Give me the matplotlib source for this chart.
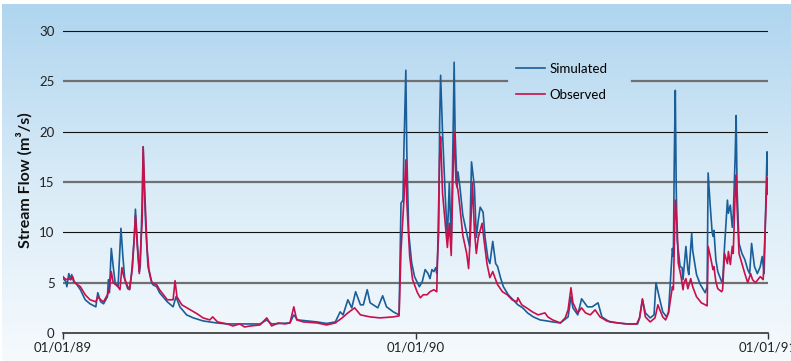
import numpy as np
import matplotlib.pyplot as plt
from matplotlib.colors import LinearSegmentedColormap

plt.rcParams['font.family'] = ['Lato', 'DejaVu Sans']

# --- Data (days since 01/01/89, flow in m3/s) ---
sim_day = [0, 3, 4, 6, 8, 9, 11, 13, 18, 23, 28, 34, 36, 39, 42, 46, 47, 48, 50, 52,
           54, 57, 60, 62, 64, 67, 69, 71, 74, 75, 77, 79, 80, 82, 83, 84, 86, 88, 91, 93,
           97, 100, 108, 114, 117, 121, 128, 135, 145, 159, 170, 186, 204, 211, 216, 235, 239, 243, 263, 273,
           282, 287, 290, 295, 299, 303, 308, 311, 315, 318, 326, 331, 335, 342, 348, 350, 352, 353, 355, 356,
           358, 361, 364, 369, 372, 375, 378, 380, 382, 384, 386, 387, 389, 390, 391, 393, 396, 398, 400, 402,
           404, 405, 406, 408, 409, 411, 414, 418, 421, 423, 426, 428, 430, 432, 435, 437, 440, 442, 445, 448,
           450, 453, 456, 461, 466, 471, 476, 481, 487, 494, 501, 507, 515, 523, 526, 528, 533, 537, 543, 548,
           554, 558, 566, 584, 595, 597, 600, 603, 608, 612, 614, 618, 621, 625, 627, 631, 632, 633, 634, 635,
           636, 639, 641, 642, 645, 647, 648, 651, 652, 656, 660, 665, 667, 668, 670, 672, 673, 674, 676, 678,
           682, 683, 685, 688, 689, 691, 693, 694, 696, 697, 698, 700, 703, 706, 709, 711, 713, 716, 719, 722,
           724, 726, 728, 729, 730]
sim_flow = [5.45, 5.1, 4.6, 5.9, 5.3, 5.8, 5.1, 5.0, 4.3, 3.3, 2.9, 2.6, 4.0, 3.1, 2.9, 3.6, 5.3, 4.0, 8.4, 6.6,
            5.0, 4.6, 10.4, 7.6, 5.3, 4.4, 4.3, 5.9, 9.7, 12.3, 8.9, 6.1, 6.6, 13.2, 18.5, 14.5, 9.9, 6.6, 5.3, 4.8,
            4.6, 4.0, 3.1, 2.6, 3.6, 2.6, 1.8, 1.5, 1.2, 1.0, 0.9, 0.9, 0.9, 1.3, 0.9, 1.0, 1.8, 1.3, 1.1, 0.95,
            1.1, 2.1, 1.8, 3.3, 2.5, 4.1, 2.8, 2.8, 4.3, 3.0, 2.5, 3.7, 2.6, 2.1, 1.8, 12.9, 13.2, 18.2, 26.1, 18.0,
            9.9, 7.0, 5.6, 4.6, 5.1, 6.3, 5.9, 5.4, 6.3, 6.1, 6.5, 5.9, 9.9, 21.0, 25.6, 19.9, 13.2, 9.5, 14.9, 8.9,
            20.2, 26.9, 19.9, 14.5, 16.0, 14.5, 11.7, 9.9, 8.6, 17.0, 14.5, 9.5, 11.2, 12.5, 12.0, 9.5, 7.4, 6.9, 9.1, 6.9,
            6.6, 5.5, 4.6, 3.8, 3.3, 2.8, 2.5, 2.0, 1.6, 1.3, 1.2, 1.1, 1.0, 1.6, 3.6, 2.5, 1.8, 3.4, 2.6, 2.6,
            3.0, 1.6, 1.1, 0.9, 0.9, 1.5, 3.3, 2.0, 1.5, 1.8, 5.0, 3.3, 2.1, 1.6, 2.1, 8.4, 7.6, 17.5, 24.1, 14.2,
            9.2, 6.6, 6.5, 5.3, 8.6, 6.3, 5.8, 9.9, 8.2, 5.8, 4.8, 4.0, 4.6, 15.9, 12.9, 10.2, 9.6, 10.2, 7.3, 6.1,
            5.1, 5.1, 8.6, 13.2, 11.9, 12.7, 10.5, 11.7, 17.5, 21.6, 14.2, 8.9, 7.9, 7.3, 6.3, 5.9, 8.9, 6.6, 5.9, 6.6,
            7.6, 5.9, 14.2, 18.0, 15.7]

obs_day = [0, 3, 6, 8, 10, 12, 18, 23, 28, 34, 36, 39, 42, 46, 48, 50, 52, 57, 59, 61,
           63, 67, 69, 72, 75, 77, 79, 82, 83, 85, 87, 89, 92, 97, 100, 108, 114, 116, 118, 123,
           132, 139, 145, 152, 155, 160, 170, 176, 183, 188, 194, 204, 211, 216, 223, 230, 235, 239, 242, 249,
           263, 273, 282, 289, 295, 302, 308, 318, 328, 342, 348, 350, 353, 355, 356, 359, 362, 367, 370, 373,
           377, 380, 384, 387, 388, 390, 391, 393, 397, 398, 400, 402, 404, 405, 407, 409, 411, 414, 418, 420,
           422, 424, 426, 428, 430, 434, 436, 439, 442, 445, 448, 450, 455, 460, 465, 470, 471, 475, 480, 486,
           492, 499, 502, 507, 515, 520, 523, 526, 528, 533, 537, 541, 546, 551, 556, 563, 574, 584, 594, 597,
           600, 603, 608, 613, 616, 618, 621, 624, 627, 631, 632, 634, 636, 637, 640, 642, 643, 645, 647, 650,
           652, 656, 661, 667, 668, 671, 673, 674, 676, 678, 682, 683, 685, 688, 689, 691, 693, 694, 696, 697,
           698, 700, 703, 706, 708, 709, 712, 714, 717, 722, 725, 726, 728, 729, 730]
obs_flow = [5.6, 5.3, 5.4, 5.3, 5.6, 5.0, 4.6, 3.8, 3.3, 3.1, 3.6, 3.3, 3.1, 3.8, 4.3, 6.1, 5.0, 4.6, 4.3, 6.5,
            5.6, 4.6, 4.4, 6.6, 11.7, 8.5, 5.9, 11.2, 18.5, 13.2, 8.5, 6.3, 5.0, 4.8, 4.3, 3.3, 3.3, 5.2, 3.6, 2.8,
            2.3, 1.9, 1.5, 1.3, 1.6, 1.1, 0.9, 0.7, 0.9, 0.6, 0.7, 0.8, 1.5, 0.7, 1.0, 0.9, 1.0, 2.6, 1.3, 1.1,
            1.0, 0.8, 1.0, 1.5, 2.0, 2.5, 1.8, 1.6, 1.5, 1.6, 1.7, 8.2, 13.2, 17.2, 13.0, 7.6, 5.3, 4.0, 3.5, 3.8,
            3.8, 4.1, 4.3, 4.1, 8.2, 17.5, 19.5, 13.9, 9.5, 8.5, 10.9, 7.7, 16.5, 20.0, 14.9, 14.2, 12.5, 9.7, 7.9, 6.4,
            10.2, 14.9, 10.2, 7.9, 9.5, 10.9, 9.2, 6.9, 5.5, 6.1, 5.3, 4.8, 4.1, 3.8, 3.3, 3.1, 3.5, 2.8, 2.5, 2.1,
            1.8, 2.0, 1.6, 1.3, 1.0, 1.5, 2.3, 4.5, 3.0, 2.0, 2.5, 2.0, 1.8, 2.3, 1.6, 1.2, 1.0, 0.9, 0.9, 1.5,
            3.4, 1.6, 1.1, 1.5, 2.8, 2.3, 1.6, 1.3, 2.0, 4.6, 4.3, 13.2, 10.5, 7.0, 5.6, 4.3, 5.0, 5.4, 4.4, 5.4,
            4.6, 3.6, 3.0, 2.7, 8.6, 7.3, 6.3, 6.6, 5.1, 4.4, 4.1, 4.3, 7.9, 6.9, 8.1, 6.8, 8.6, 7.9, 13.9, 15.7,
            12.5, 7.9, 6.9, 5.9, 5.3, 5.0, 5.9, 5.3, 5.0, 5.6, 5.3, 7.6, 12.9, 15.5, 13.8]

tick_days = [0, 365, 730]
tick_labels = ['01/01/89', '01/01/90', '01/01/91']
y_ticks = [0, 5, 10, 15, 20, 25, 30]

W, H = 791, 361
fig = plt.figure(figsize=(W / 100, H / 100), dpi=100)

# gradient backdrop
bg = fig.add_axes([1.5 / W, 0, 1 - 1.5 / W, 1 - 4 / H], zorder=0)
grad = np.linspace(0, 1, 256).reshape(-1, 1)
cmap = LinearSegmentedColormap.from_list('sky', ['#f6fafd', '#d9ebf7', '#afd5ef'])
bg.imshow(grad, aspect='auto', cmap=cmap, origin='lower', extent=[0, 1, 0, 1])
bg.axis('off')

ax = fig.add_axes([63 / W, 28 / H, 705 / W, 305 / H], zorder=1)
ax.patch.set_alpha(0)

# horizontal rules: black on tens, grey on fives, gap behind the legend
for v in y_ticks[1:]:
    if v % 10 == 0:
        kw = dict(color='#111111', lw=0.8)
    else:
        kw = dict(color='#707070', lw=1.6)
    if v == 25:
        ax.axhline(v, 0, (507 - 63) / 705, **kw, zorder=1)
        ax.axhline(v, (632 - 63) / 705, 1, **kw, zorder=1)
    else:
        ax.axhline(v, **kw, zorder=1)

ax.plot(sim_day, sim_flow, color='#1a5e99', lw=1.2, label='Simulated', zorder=3)
ax.plot(obs_day, obs_flow, color='#c8104c', lw=1.2, label='Observed', zorder=4)

ax.set_xlim(0, 730)
ax.set_ylim(0, 30.3)
ax.set_xticks(tick_days)
ax.set_xticklabels(tick_labels, fontsize=9.5, color='#222222')
ax.set_yticks(y_ticks)
ax.set_yticklabels([str(v) for v in y_ticks], fontsize=9.5, color='#222222')
ax.tick_params(axis='y', length=0, pad=6)
ax.tick_params(axis='x', length=4, width=1, color='#333333', pad=2)

for s in ['top', 'right', 'left']:
    ax.spines[s].set_visible(False)
ax.spines['bottom'].set_color('#333333')
ax.spines['bottom'].set_linewidth(1.2)

ax.set_ylabel('Stream Flow (m³/s)', fontsize=11.5, fontweight='bold', color='#111111', labelpad=5)

ax.legend(loc='upper left', bbox_to_anchor=((516 - 63) / 705, (333 - 63) / 305),
          frameon=False, fontsize=9.5, handlelength=2.2, handletextpad=0.35,
          labelspacing=1.05, borderpad=0, borderaxespad=0)

fig.savefig('out.png', dpi=100)
